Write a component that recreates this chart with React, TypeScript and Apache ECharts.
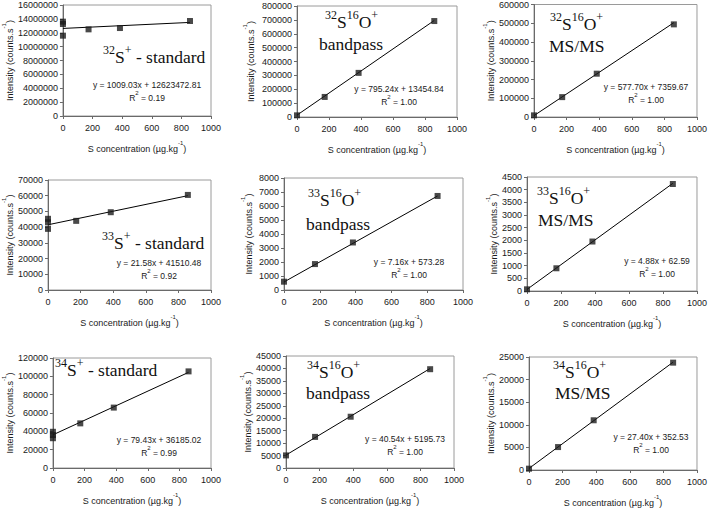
import React, { useEffect, useRef } from "react";
import * as echarts from "echarts";

// ---- data ----
const xConcRep = [0, 0, 0, 173, 385, 858];
const xConc = [0, 173, 385, 858];

const y32S = [11580000, 13260000, 13600000, 12490000, 12680000, 13690000];
const y32SO_bp = [12000, 144600, 318000, 691600];
const y32SO_ms = [8800, 106000, 231000, 494000];
const y33S = [38900, 43100, 45300, 44000, 49500, 60500];
const y33SO_bp = [593, 1852, 3395, 6717];
const y33SO_ms = [66, 897, 1953, 4223];
const y34S = [32500, 36000, 39500, 48700, 65900, 105400];
const y34SO_bp = [5060, 12500, 20600, 39700];
const y34SO_ms = [294, 5074, 11000, 23750];

const slopes = [1009.03, 795.24, 577.7, 21.58, 7.16, 4.88, 79.43, 40.54, 27.4];
const intercepts = [12623472.81, 13454.84, 7359.67, 41510.48, 573.28, 62.59, 36185.02, 5195.73, 352.53];
const eqTexts = [
  "y = 1009.03x + 12623472.81",
  "y = 795.24x + 13454.84",
  "y = 577.70x + 7359.67",
  "y = 21.58x + 41510.48",
  "y = 7.16x + 573.28",
  "y = 4.88x + 62.59",
  "y = 79.43x + 36185.02",
  "y = 40.54x + 5195.73",
  "y = 27.40x + 352.53",
];
const r2Texts = ["0.19", "1.00", "1.00", "0.92", "1.00", "1.00", "0.99", "1.00", "1.00"];

const yMax = [16000000, 800000, 600000, 70000, 8000, 4500, 120000, 45000, 25000];
const yInterval = [2000000, 100000, 100000, 10000, 1000, 500, 20000, 5000, 5000];
const xMax = 1000;
const xInterval = 200;

const isotopes = ["32", "32", "32", "33", "33", "33", "34", "34", "34"];
const modes = ["standard", "bandpass", "MS/MS", "standard", "bandpass", "MS/MS", "standard", "bandpass", "MS/MS"];

const panelX = [xConcRep, xConc, xConc, xConcRep, xConc, xConc, xConcRep, xConc, xConc];
const panelY = [y32S, y32SO_bp, y32SO_ms, y33S, y33SO_bp, y33SO_ms, y34S, y34SO_bp, y34SO_ms];

// ---- layout ----
const gridBoxes = [
  [60, 5, 151, 111],
  [297, 6, 160, 111],
  [534, 4, 164, 113],
  [46, 180, 165, 110],
  [284, 178, 179, 112],
  [527, 177, 172, 114],
  [46, 358, 165, 110],
  [286, 356, 168, 112],
  [529, 357, 169, 113],
];
const yNameGaps = [47, 42, 37, 34, 31, 29, 34, 32, 34];
const eqPos = [
  [147, 83],
  [399, 87],
  [646, 85],
  [159, 261],
  [409, 260],
  [657, 259],
  [159, 438],
  [405, 437],
  [651, 435],
];
const labelPos = [
  [[103, 55]],
  [[325, 20], [319, 42]],
  [[550, 22], [549, 44]],
  [[102, 241]],
  [[308, 198], [306, 222]],
  [[537, 196], [538, 218]],
  [[55, 368]],
  [[307, 370], [306, 391]],
  [[553, 370], [555, 391]],
];

const TEXT = "#1a1a1a";
const SANS = "Liberation Sans";
const SERIF = "Liberation Serif";

const smallRich = {
  n: { fontSize: 9, fontFamily: SANS, color: TEXT, lineHeight: 13, verticalAlign: "bottom" as const },
  p: { fontSize: 6, fontFamily: SANS, color: TEXT, lineHeight: 7, verticalAlign: "top" as const },
};

const bigRich = {
  m: { fontSize: 17.5, fontFamily: SERIF, fill: "#111", lineHeight: 22, verticalAlign: "bottom" as const },
  s: { fontSize: 12, fontFamily: SERIF, fill: "#111", lineHeight: 12, verticalAlign: "top" as const },
};

const eqRich = {
  n: { fontSize: 8.5, fontFamily: SANS, fill: TEXT, lineHeight: 12, verticalAlign: "bottom" as const },
  p: { fontSize: 6, fontFamily: SANS, fill: TEXT, lineHeight: 7, verticalAlign: "top" as const },
};

function buildOption() {
  const grid: any[] = [];
  const xAxis: any[] = [];
  const yAxis: any[] = [];
  const series: any[] = [];
  const graphic: any[] = [];
  const fmt = (v: number) => String(v);

  for (let i = 0; i < 9; i++) {
    const [l, t, w, h] = gridBoxes[i];
    grid.push({ left: l, top: t, width: w, height: h, show: true, borderColor: "#9a9a9a", borderWidth: 1, backgroundColor: "#fff" });
    const axisCommon = {
      axisLine: { show: true, lineStyle: { color: "#6a6a6a", width: 1 } },
      axisTick: { show: true, inside: false, length: 3, lineStyle: { color: "#6a6a6a" } },
      splitLine: { show: false },
    };
    xAxis.push({
      type: "value",
      gridIndex: i,
      min: 0,
      max: xMax,
      interval: xInterval,
      ...axisCommon,
      axisLabel: { fontSize: 9, fontFamily: SANS, color: TEXT, margin: 7, formatter: fmt },
      name: "{n|S concentration (µg.kg}{p|-1}{n|)}",
      nameLocation: "middle",
      nameGap: 24,
      nameTextStyle: { fontFamily: SANS, rich: smallRich },
    });
    yAxis.push({
      type: "value",
      gridIndex: i,
      min: 0,
      max: yMax[i],
      interval: yInterval[i],
      ...axisCommon,
      axisLabel: { fontSize: 9, fontFamily: SANS, color: TEXT, margin: 5, formatter: fmt },
      name: "{n|Intensity (counts.s}{p|-1}{n|)}",
      nameLocation: "middle",
      nameGap: yNameGaps[i],
      nameTextStyle: { fontFamily: SANS, rich: smallRich },
    });

    const xs = panelX[i];
    const ys = panelY[i];
    const xEnd = Math.max(...xs);
    const xStart = Math.min(...xs);
    series.push({
      type: "line",
      xAxisIndex: i,
      yAxisIndex: i,
      symbol: "none",
      silent: true,
      lineStyle: { color: "#000", width: 1 },
      data: [
        [xStart, slopes[i] * xStart + intercepts[i]],
        [xEnd, slopes[i] * xEnd + intercepts[i]],
      ],
      z: 2,
    });
    series.push({
      type: "scatter",
      xAxisIndex: i,
      yAxisIndex: i,
      symbol: "rect",
      symbolSize: 6,
      itemStyle: { color: "#1c1c1c" },
      data: xs.map((x, j) => [x, ys[j]]),
      z: 3,
    });

    graphic.push({
      type: "text",
      x: eqPos[i][0],
      y: eqPos[i][1],
      z: 10,
      style: { text: "{n|" + eqTexts[i] + "}", fontFamily: SANS, rich: eqRich, align: "center", verticalAlign: "middle" },
    });
    graphic.push({
      type: "text",
      x: eqPos[i][0],
      y: eqPos[i][1] + 13,
      z: 10,
      style: { text: "{n|R}{p|2}{n| = " + r2Texts[i] + "}", fontFamily: SANS, rich: eqRich, align: "center", verticalAlign: "middle" },
    });

    const iso = isotopes[i];
    if (modes[i] === "standard") {
      graphic.push({
        type: "text",
        x: labelPos[i][0][0],
        y: labelPos[i][0][1],
        z: 10,
        style: { text: "{s|" + iso + "}{m|S}{s|+}{m| - standard}", fontFamily: SERIF, rich: bigRich, align: "left", verticalAlign: "middle" },
      });
    } else {
      graphic.push({
        type: "text",
        x: labelPos[i][0][0],
        y: labelPos[i][0][1],
        z: 10,
        style: { text: "{s|" + iso + "}{m|S}{s|16}{m|O}{s|+}", fontFamily: SERIF, rich: bigRich, align: "left", verticalAlign: "middle" },
      });
      graphic.push({
        type: "text",
        x: labelPos[i][1][0],
        y: labelPos[i][1][1],
        z: 10,
        style: { text: "{m|" + modes[i] + "}", fontFamily: SERIF, rich: bigRich, align: "left", verticalAlign: "middle" },
      });
    }
  }

  return {
    animation: false,
    backgroundColor: "#fff",
    textStyle: { fontFamily: SANS },
    grid,
    xAxis,
    yAxis,
    series,
    graphic,
  };
}

export default function App() {
  const ref = useRef<HTMLDivElement>(null);
  useEffect(() => {
    if (!ref.current) return;
    const chart = echarts.init(ref.current, undefined, { renderer: "svg" });
    chart.setOption(buildOption() as any);
    return () => chart.dispose();
  }, []);
  return (
    <div
      ref={ref}
      style={{ position: "absolute", left: 0, top: 0, width: 710, height: 508, background: "#fff" }}
    />
  );
}
